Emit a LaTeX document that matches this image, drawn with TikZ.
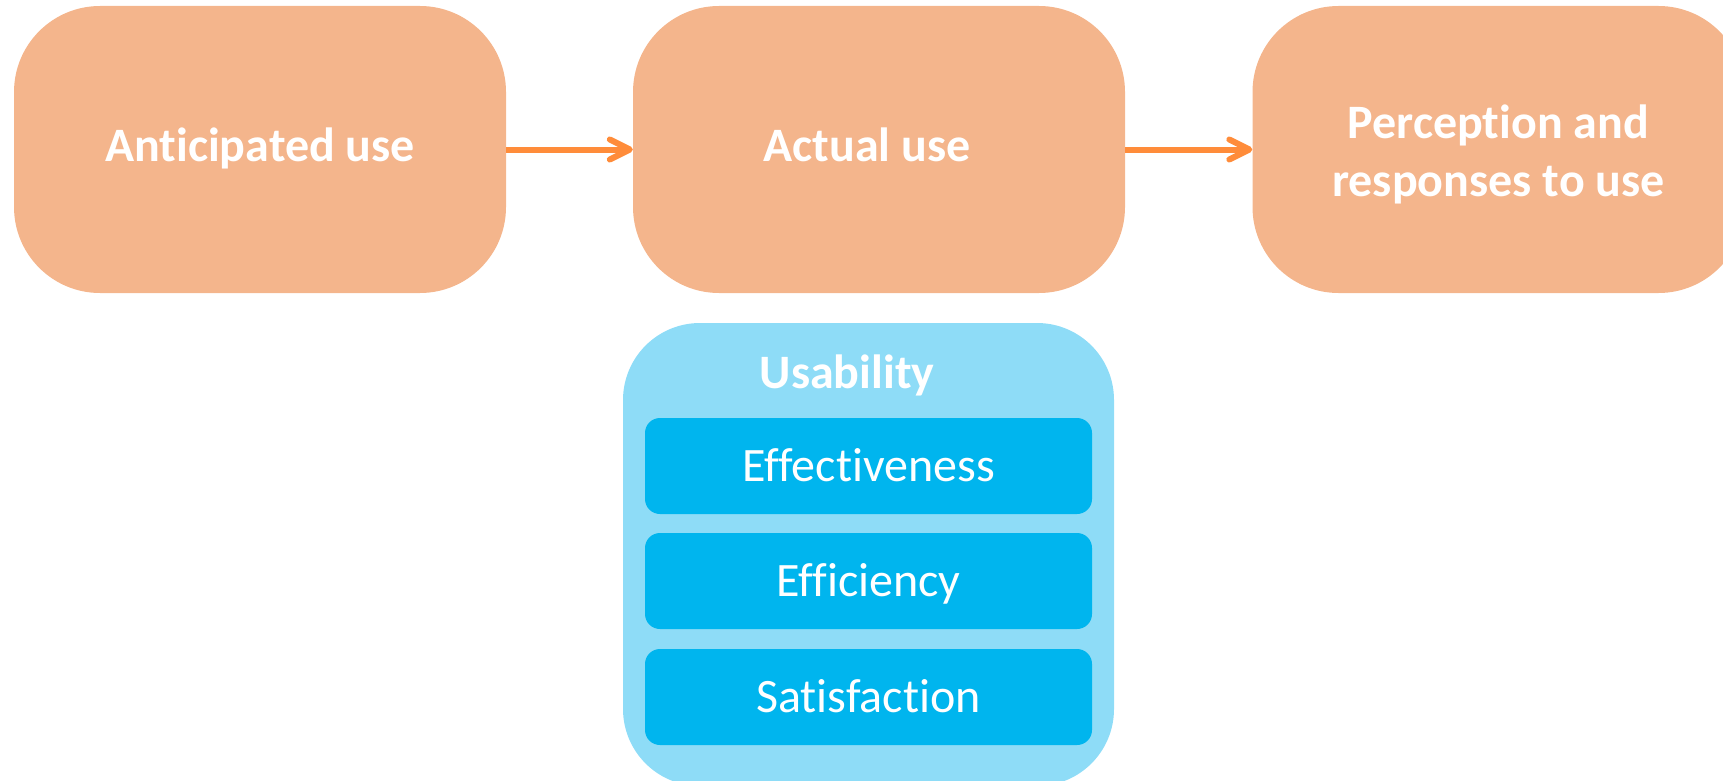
\documentclass[tikz,border=0pt]{standalone}
\usepackage{fontspec}
\setmainfont{Carlito}[Ligatures=NoCommon]
\usetikzlibrary{arrows.meta}
\definecolor{boxorange}{HTML}{F4B58C}
\definecolor{arroworange}{HTML}{FF8C3A}
\definecolor{outerblue}{HTML}{8EDCF7}
\definecolor{innerblue}{HTML}{00B5EE}
\tikzset{
  usebox/.style={fill=boxorange, draw=none, rounded corners=86pt, minimum width=492pt,
    minimum height=287pt, inner sep=0pt},
  boxtext/.style={text=white, font=\fontsize{48}{58}\selectfont\bfseries, inner sep=0pt},
  onebox/.style={usebox, boxtext, text height=30pt, text depth=7pt},
  outerbox/.style={fill=outerblue, draw=none, rounded corners=77pt, minimum width=491pt,
    minimum height=463pt, inner sep=0pt},
  innerbox/.style={fill=innerblue, draw=none, rounded corners=15pt, minimum width=447pt,
    minimum height=96pt, inner sep=0pt, text=white, font=\fontsize{48}{58}\selectfont,
    text height=30pt, text depth=0pt},
  flow/.style={draw=arroworange, line width=6pt,
    -{Straight Barb[length=20pt,width=20pt,round]}},
}
\begin{document}
\begin{tikzpicture}[x=1pt,y=-1pt]
  \useasboundingbox (0,0) rectangle (1723,781);
  \begin{scope}
  \clip (0,0) rectangle (1723,781);
  \node[onebox] (b1) at (260,149.5) {Anticipated use};
  \node[onebox] (b2) at (879,149.5) {\hspace*{-24pt}Actual use};
  \node[usebox] (b3) at (1498.5,149.5) {};
  \node[boxtext, align=center] (b3text) at (1498.5,154) {Perception and\\responses to use};
  \node[outerbox] (outer) at (868.5,554.5) {};
  \node[boxtext, text height=30pt, text depth=0pt] (title) at (847,373) {Usability};
  \node[innerbox] (eff) at (868.5,466) {Effectiveness};
  \node[innerbox] (effi) at (868.5,581) {Efficiency};
  \node[innerbox] (sat) at (868.5,697) {Satisfaction};
  \end{scope}
  \draw[flow] (b1.east) -- (b2.west);
  \draw[flow] (b2.east) -- (b3.west);
\end{tikzpicture}
\end{document}
